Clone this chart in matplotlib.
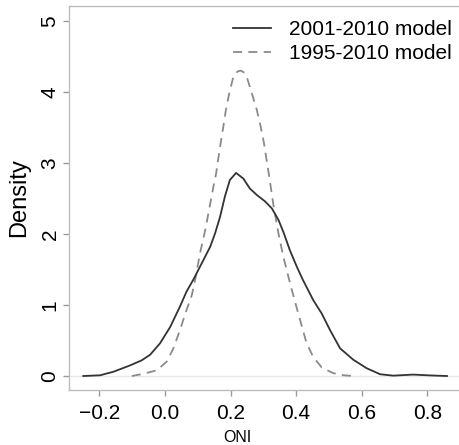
import matplotlib
matplotlib.use("Agg")
import matplotlib.pyplot as plt

plt.rcParams["font.family"] = ["Liberation Sans", "DejaVu Sans"]

# kernel density estimates of ONI, read at a set of x positions
oni_2001 = [-0.249, -0.198, -0.157, -0.106, -0.071, -0.045, -0.015, 0.016,
            0.046, 0.066, 0.087, 0.117, 0.138, 0.153, 0.168, 0.183, 0.198,
            0.217, 0.239, 0.259, 0.280, 0.305, 0.326, 0.346, 0.361, 0.381,
            0.402, 0.420, 0.452, 0.478, 0.503, 0.534, 0.574, 0.615, 0.656,
            0.696, 0.757, 0.810, 0.860]
dens_2001 = [0.0, 0.01, 0.06, 0.15, 0.22, 0.30, 0.46, 0.69,
             0.98, 1.19, 1.36, 1.63, 1.82, 2.01, 2.24, 2.53, 2.76,
             2.86, 2.78, 2.64, 2.55, 2.46, 2.36, 2.20, 2.03, 1.77,
             1.54, 1.36, 1.07, 0.88, 0.65, 0.39, 0.23, 0.11, 0.025,
             0.005, 0.02, 0.008, 0.0]

oni_1995 = [-0.101, -0.066, -0.025, 0.005, 0.026, 0.046, 0.066, 0.082,
            0.092, 0.107, 0.124, 0.148, 0.156, 0.162, 0.170, 0.178, 0.186,
            0.196, 0.209, 0.222, 0.232, 0.242, 0.249, 0.265, 0.280, 0.292,
            0.302, 0.310, 0.318, 0.330, 0.346, 0.361, 0.378, 0.394, 0.412,
            0.432, 0.452, 0.478, 0.513, 0.545, 0.574]
dens_1995 = [0.0, 0.03, 0.08, 0.20, 0.39, 0.65, 0.93, 1.14,
             1.35, 1.73, 2.08, 2.67, 2.85, 3.04, 3.28, 3.51, 3.75,
             3.98, 4.22, 4.29, 4.30, 4.27, 4.22, 3.98, 3.75, 3.51,
             3.28, 3.04, 2.81, 2.43, 2.01, 1.68, 1.37, 1.09, 0.79,
             0.46, 0.27, 0.12, 0.04, 0.01, 0.0]

x_ticks = [-0.2, 0.0, 0.2, 0.4, 0.6, 0.8]
x_labels = ["\u22120.2", "0.0", "0.2", "0.4", "0.6", "0.8"]
y_ticks = [0, 1, 2, 3, 4, 5]

fig = plt.figure(figsize=(4.6, 4.45), dpi=100)
ax = fig.add_axes([0.1507, 0.1236, 0.8524, 0.8629])

ax.axhline(0, color="#e8e8e8", lw=1.0, zorder=1)
ax.plot(oni_2001, dens_2001, color="#333333", lw=1.3,
        solid_joinstyle="round", label="2001-2010 model", zorder=3)
ax.plot(oni_1995, dens_1995, color="#8a8a8a", lw=1.3,
        dashes=(5, 3.5), label="1995-2010 model", zorder=2)

ax.set_xlim(-0.2915, 0.904)
ax.set_ylim(-0.197, 5.21)
ax.set_xticks(x_ticks)
ax.set_xticklabels(x_labels)
ax.set_yticks(y_ticks)

for s in ax.spines.values():
    s.set_color("#bdbdbd")
    s.set_linewidth(1.0)

ax.tick_params(axis="both", colors="#9a9a9a", labelcolor="black",
               length=4, width=1.0, labelsize=15)
ax.tick_params(axis="x", pad=6)
ax.tick_params(axis="y", pad=3, labelrotation=90)
for lbl in ax.get_yticklabels():
    lbl.set_verticalalignment("center")

fig.text(19 / 460, 1 - 198 / 445, "Density", fontsize=17,
         rotation=90, ha="center", va="center")
fig.text(237 / 460, 1 - 438 / 445, "ONI", fontsize=11.5,
         ha="center", va="center")

ax.legend(loc="upper right", bbox_to_anchor=(452 / 460, 1 - 20 / 445),
          bbox_transform=fig.transFigure, frameon=False, fontsize=15,
          handlelength=1.85, handletextpad=0.85, labelspacing=0.25,
          borderpad=0.0, borderaxespad=0.0)

fig.savefig("out.png", dpi=100)
